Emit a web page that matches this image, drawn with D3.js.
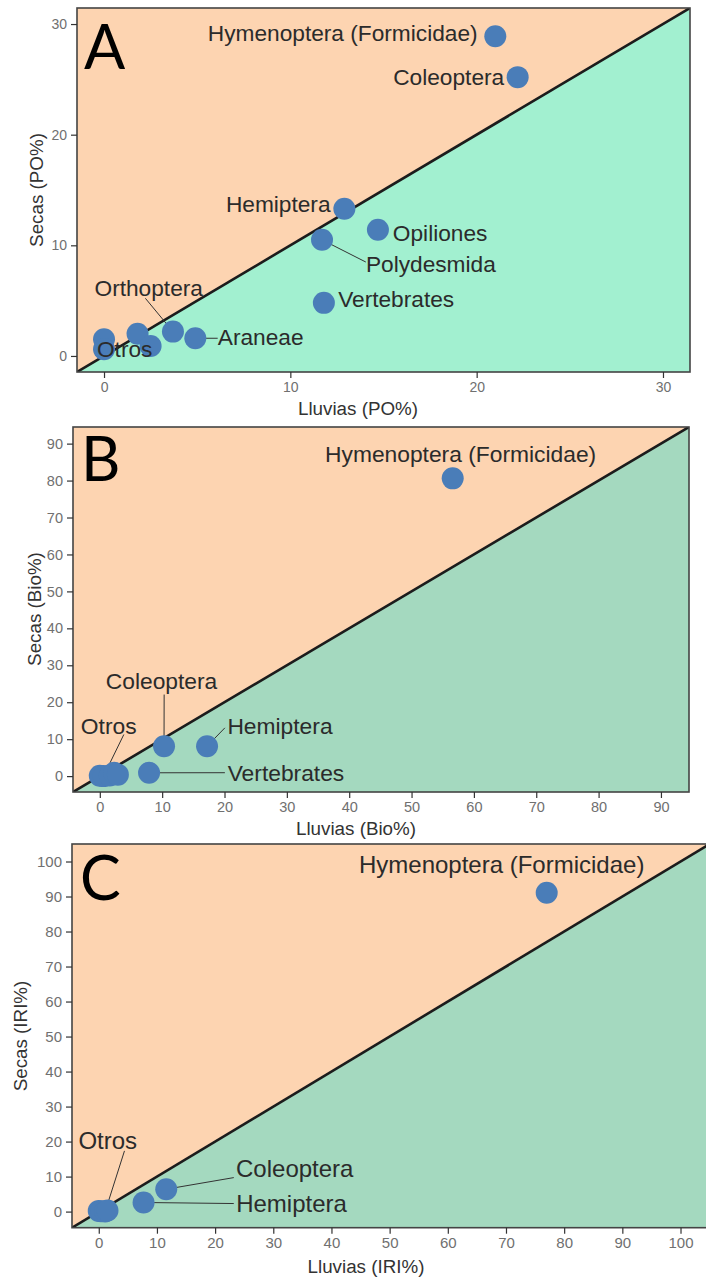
<!DOCTYPE html>
<html>
<head>
<meta charset="utf-8">
<script src="https://cdn.jsdelivr.net/npm/d3@7"></script>
<style>
  html, body { margin: 0; padding: 0; background: #ffffff; }
  svg { display: block; }
</style>
</head>
<body>
<svg id="chart" width="706" height="1280"></svg>
<script>
// ---------------- DATA ----------------
// Panel A : PO%
const taxaA    = ["Hymenoptera (Formicidae)", "Coleoptera", "Hemiptera", "Opiliones", "Polydesmida", "Vertebrates", "Araneae", "Orthoptera", "", "", "", "Otros"];
const lluviasA = [21.0, 22.2, 12.9, 14.7, 11.7, 11.8, 4.9, 3.7, 1.8, 2.5, 0.0, 0.0];
const secasA   = [28.9, 25.2, 13.3, 11.4, 10.5, 4.8, 1.6, 2.2, 2.0, 0.9, 1.5, 0.6];

// Panel B : Bio%
const taxaB    = ["Hymenoptera (Formicidae)", "Coleoptera", "Hemiptera", "Vertebrates", "", "Otros", "", "", ""];
const lluviasB = [56.6, 10.3, 17.2, 7.9, 0.0, 0.6, 1.6, 2.3, 2.9];
const secasB   = [80.6, 8.1, 8.1, 0.9, 0.1, 0.0, 0.2, 0.9, 0.4];

// Panel C : IRI%
const taxaC    = ["Hymenoptera (Formicidae)", "Coleoptera", "Hemiptera", "", "", "Otros", ""];
const lluviasC = [77.0, 11.6, 7.7, 0.0, 0.4, 1.1, 1.5];
const secasC   = [91.1, 6.4, 2.6, 0.2, 0.1, 0.0, 0.3];

// Axis ticks
const ticksA = [0, 10, 20, 30];
const ticksB = [0, 10, 20, 30, 40, 50, 60, 70, 80, 90];
const ticksC = [0, 10, 20, 30, 40, 50, 60, 70, 80, 90, 100];

// Axis titles & panel tags
const xTitles = ["Lluvias (PO%)", "Lluvias (Bio%)", "Lluvias (IRI%)"];
const yTitles = ["Secas (PO%)", "Secas (Bio%)", "Secas (IRI%)"];
const tags    = ["A", "B", "C"];

// ---------------- LAYOUT (label placement in data units, repel-like) ----------------
const labelLayoutA = {
  "Hymenoptera (Formicidae)": {lx: 12.81, ly: 29.18},
  "Coleoptera":  {lx: 18.5,  ly: 25.2},
  "Hemiptera":   {lx: 9.35,  ly: 13.73},
  "Opiliones":   {lx: 18.04, ly: 11.14},
  "Polydesmida": {lx: 17.54, ly: 8.31, sx: 14.05, sy: 8.49},
  "Vertebrates": {lx: 15.68, ly: 5.12},
  "Araneae":     {lx: 8.41,  ly: 1.69, sx: 6.1, sy: 1.6},
  "Orthoptera":  {lx: 2.4,   ly: 6.12, sx: 2.22, sy: 5.21},
  "Otros":       {lx: 1.11,  ly: 0.6}
};
const labelLayoutB = {
  "Hymenoptera (Formicidae)": {lx: 57.87, ly: 87.3},
  "Coleoptera":  {lx: 9.9,   ly: 25.84, sx: 10.32, sy: 22.08},
  "Hemiptera":   {lx: 28.9,  ly: 13.69, sx: 20.06, sy: 13.07},
  "Vertebrates": {lx: 29.86, ly: 0.92,  sx: 20.06, sy: 0.92},
  "Otros":       {lx: 1.43,  ly: 13.69, sx: 3.85,  sy: 11.26}
};
const labelLayoutC = {
  "Hymenoptera (Formicidae)": {lx: 69.26, ly: 99.06},
  "Coleoptera":  {lx: 33.69, ly: 12.4, sx: 23.21, sy: 9.71},
  "Hemiptera":   {lx: 33.13, ly: 2.4,  sx: 23.21, sy: 2.3},
  "Otros":       {lx: 1.55,  ly: 20.49, sx: 4.42, sy: 17.34}
};

const panels = [
  {taxa: taxaA, xs: lluviasA, ys: secasA, ticks: ticksA, labels: labelLayoutA,
   left: 77, right: 690, top: 8, bottom: 372, domain: [-1.45, 31.45],
   green: "#a2f0d0", labelSize: 22.7, tickSize: 14,
   xTitlePos: [358, 408], yTitlePos: [36, 190], tagPos: [84, 69]},
  {taxa: taxaB, xs: lluviasB, ys: secasB, ticks: ticksB, labels: labelLayoutB,
   left: 73, right: 689, top: 427, bottom: 792, domain: [-4.3, 94.5],
   green: "#a4d9bf", labelSize: 22.8, tickSize: 14.5,
   xTitlePos: [356, 828], yTitlePos: [34, 609], tagPos: [81, 481]},
  {taxa: taxaC, xs: lluviasC, ys: secasC, ticks: ticksC, labels: labelLayoutC,
   left: 72, right: 709.6, top: 844, bottom: 1227.7, domain: [-4.6, 105.0],
   green: "#a4d9bf", labelSize: 24, tickSize: 15,
   xTitlePos: [366, 1266], yTitlePos: [20, 1036], tagPos: [80, 900]}
];

const ORANGE = "#fdd4b1";
const POINT = "#4a7db8";
const FONT = "'Liberation Sans', Arial, sans-serif";

const svg = d3.select("#chart");

panels.forEach((p, i) => {
  const x = d3.scaleLinear().domain(p.domain).range([p.left, p.right]);
  const y = d3.scaleLinear().domain(p.domain).range([p.bottom, p.top]);
  const [d0, d1] = p.domain;
  const g = svg.append("g");

  const clipId = "clip" + i;
  svg.append("defs").append("clipPath").attr("id", clipId)
    .append("rect").attr("x", p.left).attr("y", p.top)
    .attr("width", p.right - p.left).attr("height", p.bottom - p.top);

  const plot = g.append("g").attr("clip-path", `url(#${clipId})`);
  const line = d3.line().x(d => x(d[0])).y(d => y(d[1]));

  // regions
  plot.append("path").attr("d", line([[d0, d0], [d0, d1], [d1, d1]]) + "Z").attr("fill", ORANGE);
  plot.append("path").attr("d", line([[d0, d0], [d1, d0], [d1, d1]]) + "Z").attr("fill", p.green);

  // diagonal 1:1 line
  plot.append("path").attr("d", line([[d0, d0], [d1, d1]]))
    .attr("stroke", "#1c1c1c").attr("stroke-width", 2.6).attr("fill", "none");

  const data = p.taxa.map((t, k) => ({name: t, x: p.xs[k], y: p.ys[k]}));

  // leader segments
  data.forEach(d => {
    const L = p.labels[d.name];
    if (d.name && L && L.sx !== undefined) {
      plot.append("line")
        .attr("x1", x(d.x)).attr("y1", y(d.y))
        .attr("x2", x(L.sx)).attr("y2", y(L.sy))
        .attr("stroke", "#333").attr("stroke-width", 1);
    }
  });

  // points
  plot.selectAll("circle.pt").data(data).enter().append("circle")
    .attr("class", "pt")
    .attr("cx", d => x(d.x)).attr("cy", d => y(d.y))
    .attr("r", 11).attr("fill", POINT);

  // labels
  data.forEach(d => {
    const L = p.labels[d.name];
    if (d.name && L) {
      plot.append("text")
        .attr("x", x(L.lx)).attr("y", y(L.ly)).attr("dy", "0.36em")
        .attr("text-anchor", "middle")
        .attr("font-family", FONT).attr("font-size", p.labelSize)
        .attr("fill", "#2b2b2b")
        .text(d.name);
    }
  });

  // frame
  g.append("rect").attr("x", p.left).attr("y", p.top)
    .attr("width", p.right - p.left).attr("height", p.bottom - p.top)
    .attr("fill", "none").attr("stroke", "#444").attr("stroke-width", 1.6);

  // axes
  const ax = g.append("g").attr("transform", `translate(0,${p.bottom})`)
    .call(d3.axisBottom(x).tickValues(p.ticks).tickSize(6).tickPadding(4).tickFormat(d3.format("d")));
  const ay = g.append("g").attr("transform", `translate(${p.left},0)`)
    .call(d3.axisLeft(y).tickValues(p.ticks).tickSize(6).tickPadding(4).tickFormat(d3.format("d")));
  [ax, ay].forEach(a => {
    a.select(".domain").remove();
    a.selectAll(".tick line").attr("stroke", "#333").attr("stroke-width", 1.2);
    a.selectAll(".tick text").attr("fill", "#707070")
      .attr("font-family", FONT).attr("font-size", p.tickSize);
  });

  // axis titles
  g.append("text").attr("x", p.xTitlePos[0]).attr("y", p.xTitlePos[1]).attr("dy", "0.35em")
    .attr("text-anchor", "middle").attr("font-family", FONT).attr("font-size", 18.8)
    .attr("fill", "#333").text(xTitles[i]);
  g.append("text")
    .attr("transform", `translate(${p.yTitlePos[0]},${p.yTitlePos[1]}) rotate(-90)`)
    .attr("dy", "0.35em")
    .attr("text-anchor", "middle").attr("font-family", FONT).attr("font-size", 18.8)
    .attr("fill", "#333").text(yTitles[i]);

  // panel tag
  g.append("text").attr("x", p.tagPos[0]).attr("y", p.tagPos[1])
    .attr("font-family", "Lato, 'Open Sans', sans-serif").attr("font-size", 61)
    .attr("fill", "#000").text(tags[i]);
});
</script>
</body>
</html>
